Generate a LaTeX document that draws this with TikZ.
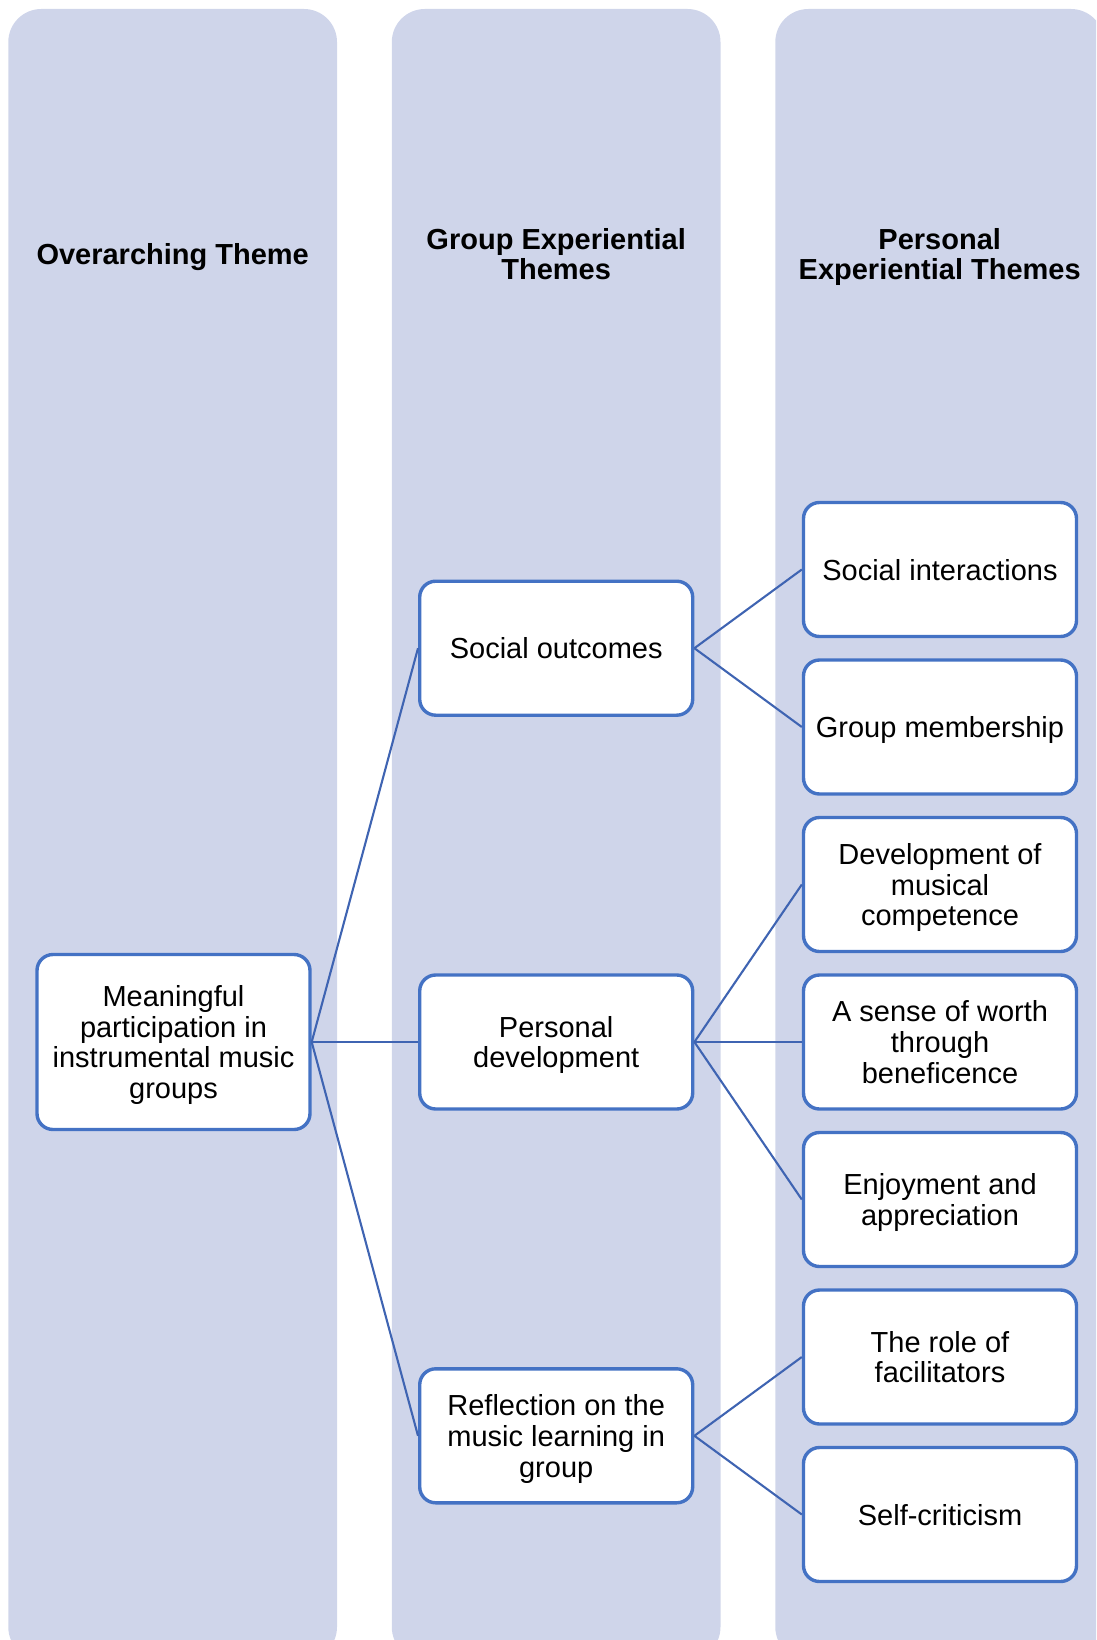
\documentclass[tikz,border=0pt]{standalone}
\usepackage{fontspec}
\setmainfont{Liberation Sans}
\definecolor{colfill}{HTML}{CFD5EA}
\definecolor{boxline}{HTML}{4472C4}
\definecolor{linkline}{HTML}{3F64B2}
\begin{document}
\begin{tikzpicture}[x=1pt,y=-1pt,
  column/.style={fill=colfill, rounded corners=33pt},
  theme/.style={draw=boxline, line width=3.4pt, fill=white, rounded corners=16pt,
    minimum width=273pt, minimum height=134pt, inner sep=0pt, align=center,
    text depth=0pt, font=\fontsize{29}{30.7}\selectfont},
  header/.style={align=center, inner sep=0pt, font=\fontsize{29}{30.7}\selectfont\bfseries},
  link/.style={draw=linkline, line width=2.1pt}]
\useasboundingbox (0,0) rectangle (1096,1640);
\clip (0,0) rectangle (1096,1640);

% three background columns
\fill[column] (8.3,9) rectangle (337,1660);
\fill[column] (391.8,9) rectangle (720.5,1660);
\fill[column] (775.3,9) rectangle (1104,1660);

% column headings
\node[header] (h1) at (172.7,257.5) {Overarching Theme};
\node[header] (h2) at (556.2,254) {Group Experiential\\Themes};
\node[header] (h3) at (939.7,257) {Personal\\Experiential Themes};

% overarching theme
\node[theme, minimum height=175pt] (over) at (173.5,1042)
  {Meaningful\\participation in\\instrumental music\\groups};

% group experiential themes
\node[theme] (g1) at (556.2,648.2) {Social outcomes};
\node[theme] (g2) at (556.2,1042) {Personal\\development};
\node[theme] (g3) at (556.2,1435.8) {Reflection on the\\music learning in\\group};

% personal experiential themes
\node[theme] (p1) at (940,569.5) {Social interactions};
\node[theme] (p2) at (940,727) {Group membership};
\node[theme] (p3) at (940,884.5) {Development of\\musical\\competence};
\node[theme] (p4) at (940,1042) {A sense of worth\\through\\beneficence};
\node[theme] (p5) at (940,1199.5) {Enjoyment and\\appreciation};
\node[theme] (p6) at (940,1357) {The role of\\facilitators};
\node[theme] (p7) at (940,1514.5) {Self-criticism};

% connectors
\draw[link] (over.east) -- (g1.west);
\draw[link] (over.east) -- (g2.west);
\draw[link] (over.east) -- (g3.west);
\draw[link] (g1.east) -- (p1.west);
\draw[link] (g1.east) -- (p2.west);
\draw[link] (g2.east) -- (p3.west);
\draw[link] (g2.east) -- (p4.west);
\draw[link] (g2.east) -- (p5.west);
\draw[link] (g3.east) -- (p6.west);
\draw[link] (g3.east) -- (p7.west);
\end{tikzpicture}
\end{document}
